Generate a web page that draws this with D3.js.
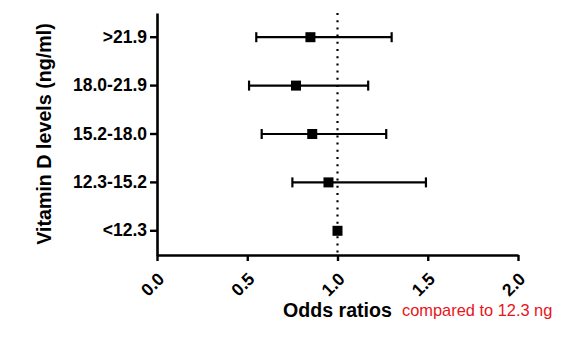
<!DOCTYPE html>
<html>
<head>
<meta charset="utf-8">
<script src="https://cdn.jsdelivr.net/npm/d3@7"></script>
<style>
  html, body { margin: 0; padding: 0; background: #fff; }
  svg { display: block; }
</style>
</head>
<body>
<svg id="chart" width="571" height="339"></svg>
<script>
const categories = [">21.9", "18.0-21.9", "15.2-18.0", "12.3-15.2", "<12.3"];
const oddsRatio = [0.85, 0.77, 0.86, 0.95, 1.0];
const lowerCI = [0.55, 0.51, 0.58, 0.75, null];
const upperCI = [1.30, 1.17, 1.27, 1.49, null];
const xTicks = [0, 0.5, 1.0, 1.5, 2.0];
const referenceValue = 1.0;

const W = 571, H = 339;
const margin = { top: 13, left: 157, right: 53, bottom: 84 };
const iw = W - margin.left - margin.right;
const ih = H - margin.top - margin.bottom;

const svg = d3.select("#chart");
const g = svg.append("g").attr("transform", `translate(${margin.left},${margin.top})`);

const x = d3.scaleLinear().domain([0, 2]).range([0, iw]);
const y = d3.scaleBand().domain(categories).range([0, ih]);
const cy = d => y(d) + y.bandwidth() / 2;

const font = "'Liberation Sans', Arial, sans-serif";

// reference dotted line
g.append("line")
  .attr("x1", x(referenceValue)).attr("x2", x(referenceValue))
  .attr("y1", 0).attr("y2", ih)
  .attr("stroke", "#000").attr("stroke-width", 2.2)
  .attr("stroke-dasharray", "2,5.2");

const data = categories.map((c, i) => ({ c, or: oddsRatio[i], lo: lowerCI[i], hi: upperCI[i] }));

// error bars
const eb = g.selectAll(".eb").data(data.filter(d => d.lo != null)).enter().append("g");
eb.append("line")
  .attr("x1", d => x(d.lo)).attr("x2", d => x(d.hi))
  .attr("y1", d => cy(d.c)).attr("y2", d => cy(d.c))
  .attr("stroke", "#000").attr("stroke-width", 2.2);
eb.append("line")
  .attr("x1", d => x(d.lo)).attr("x2", d => x(d.lo))
  .attr("y1", d => cy(d.c) - 5).attr("y2", d => cy(d.c) + 5)
  .attr("stroke", "#000").attr("stroke-width", 2.2);
eb.append("line")
  .attr("x1", d => x(d.hi)).attr("x2", d => x(d.hi))
  .attr("y1", d => cy(d.c) - 5).attr("y2", d => cy(d.c) + 5)
  .attr("stroke", "#000").attr("stroke-width", 2.2);

// squares
const sq = 10;
g.selectAll(".pt").data(data).enter().append("rect")
  .attr("x", d => x(d.or) - sq / 2).attr("y", d => cy(d.c) - sq / 2)
  .attr("width", sq).attr("height", sq).attr("fill", "#000");

// x axis
const xAxis = g.append("g").attr("transform", `translate(0,${ih})`)
  .call(d3.axisBottom(x).tickValues(xTicks).tickFormat(d3.format(".1f")).tickSize(6).tickSizeOuter(0));
xAxis.select(".domain").attr("stroke-width", 2.6);
xAxis.selectAll(".tick line").attr("stroke-width", 2.4);
xAxis.selectAll(".tick text")
  .attr("x", 0).attr("y", 0).attr("dy", 0)
  .attr("text-anchor", "end")
  .attr("transform", "translate(8,25) rotate(-45)")
  .attr("font-family", font).attr("font-size", 17.5).attr("font-weight", "bold").attr("fill", "#000");

// y axis
const yAxis = g.append("g")
  .call(d3.axisLeft(y).tickSize(7).tickPadding(3).tickSizeOuter(0));
yAxis.select(".domain").attr("stroke-width", 2.6);
yAxis.selectAll(".tick line").attr("stroke-width", 2.4);
yAxis.selectAll(".tick text")
  .attr("font-family", font).attr("font-size", 17.5).attr("font-weight", "bold").attr("fill", "#000");

// axis titles
svg.append("text")
  .attr("transform", `translate(51,${margin.top + ih / 2}) rotate(-90)`)
  .attr("text-anchor", "middle")
  .attr("font-family", font).attr("font-size", 19.7).attr("font-weight", "bold")
  .text("Vitamin D levels (ng/ml)");

svg.append("text")
  .attr("x", 283).attr("y", 317)
  .attr("font-family", font).attr("font-size", 19.6).attr("font-weight", "bold")
  .text("Odds ratios");

svg.append("text")
  .attr("x", 402).attr("y", 316)
  .attr("font-family", font).attr("font-size", 16.4).attr("fill", "#e8141b")
  .text("compared to 12.3 ng");
</script>
</body>
</html>
